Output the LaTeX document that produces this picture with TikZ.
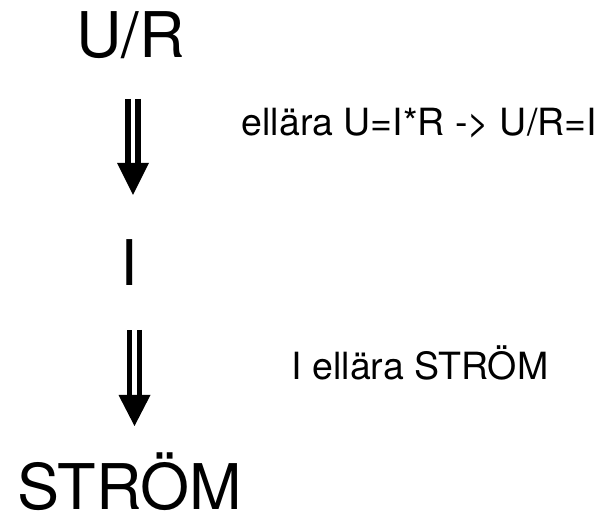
\documentclass[tikz,border=0pt]{standalone}
\usepackage{fontspec}
\setmainfont{TeX Gyre Heros}
\usetikzlibrary{calc}
\tikzset{
  big/.style={font=\fontsize{63}{63}\selectfont, inner sep=0pt, anchor=base},
  note/.style={font=\fontsize{37.5}{37.5}\selectfont, inner sep=0pt, anchor=base west},
  bars/.style={draw=black, line width=5.5pt, double=white, double distance=4.5pt},
  head/.style={fill=black},
}
\begin{document}
\begin{tikzpicture}[x=1pt,y=-1pt]
\useasboundingbox[fill=white] (0,0) rectangle (603,518);
\node[big] (UR) at (130.5,58) {U/R};
\node[big] (I) at (129.5,286) {I};
\node[big] (S) at (130,510) {STRÖM};
\node[note] (n1) at (241.5,136) {ellära U=I*R -> U/R=I};
\node[note] (n2) at (291.5,380) {I ellära STRÖM};
\coordinate (a1s) at (133,99);
\coordinate (a1m) at (133,164);
\coordinate (a1e) at (133,195);
\coordinate (a2s) at (134.5,330);
\coordinate (a2m) at (134.5,396);
\coordinate (a2e) at (134.5,426);
\draw[bars] (a1s) -- (a1m);
\fill[head] ($(a1m)+(-16,-1)$) -- ($(a1m)+(16,-1)$) -- (a1e) -- cycle;
\draw[bars] (a2s) -- (a2m);
\fill[head] ($(a2m)+(-16,-1)$) -- ($(a2m)+(16,-1)$) -- (a2e) -- cycle;
\end{tikzpicture}
\end{document}
